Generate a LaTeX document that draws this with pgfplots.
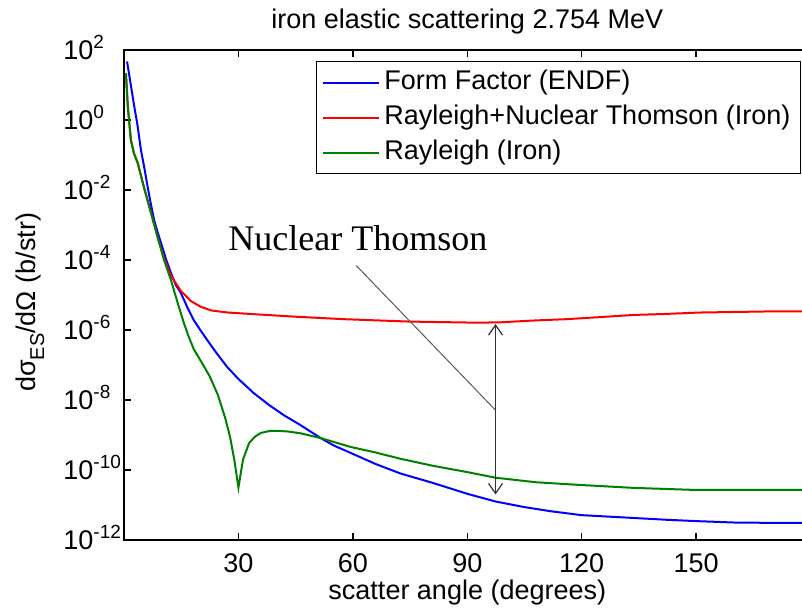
\documentclass[border=0pt]{standalone}
\usepackage{pgfplots}
\pgfplotsset{compat=1.18}
\usepackage{fontspec}
\setmainfont{Liberation Sans}
\newfontfamily\serifannot{Liberation Serif}
\usetikzlibrary{arrows.meta}
\newcommand{\fs}{\fontsize{13.5}{16}\selectfont}
\newcommand{\tl}[1]{10\raisebox{5.5pt}{\fontsize{9.5}{9.5}\selectfont #1}}
\definecolor{mblue}{RGB}{0,0,255}
\definecolor{mred}{RGB}{255,0,0}
\definecolor{mgreen}{RGB}{0,128,0}
\begin{document}
\begin{tikzpicture}
\begin{axis}[
  at={(0,0)}, anchor=south west,
  scale only axis, width=343.3pt, height=245pt,
  xmin=0, xmax=180, ymode=log, ymin=1e-12, ymax=1e2,
  xtick={30,60,90,120,150}, xticklabels={30,60,90,120,150},
  ytick={1e-12,1e-10,1e-8,1e-6,1e-4,1e-2,1,1e2},
  yticklabels={\tl{-12},\tl{-10},\tl{-8},\tl{-6},\tl{-4},\tl{-2},\tl{0},\tl{2}},
  yminorticks=false, xminorticks=false,
  tick align=inside, major tick length=3.5pt,
  every tick/.style={black, line width=0.75pt},
  axis line style={line width=0.8pt},
  yticklabel style={font=\fs, anchor=base west, inner sep=0pt, xshift=-30.5pt, yshift=-4.8pt},
  xticklabel style={font=\fs, anchor=base, inner sep=0pt, yshift=-16pt},
  every axis title shift=0pt,
  title={iron elastic scattering 2.754 MeV},
  title style={font=\fs, at={(axis description cs:0.5,1.0449)}, anchor=base, inner sep=0pt},
  xlabel={scatter angle (degrees)},
  xlabel style={font=\fs, at={(axis description cs:0.5,-0.1204)}, anchor=base, inner sep=0pt},
  ylabel={dσ\raisebox{-4.5pt}{\fontsize{10}{10}\selectfont ES}/dΩ (b/str)},
  ylabel style={font=\fs, at={(axis description cs:-0.1296,0.485)}, anchor=base, inner sep=0pt},
  legend style={font=\fs, draw=black, line width=0.6pt, fill=white,
    at={(rel axis cs:0.986,0.9776)}, anchor=north east,
    inner xsep=3pt, inner ysep=3pt, row sep=2.5pt,
    cells={anchor=west},
    nodes={inner ysep=1pt, text height=10pt, text depth=3pt}},
  legend image code/.code={\draw[#1, line width=1pt] (0pt,0pt) -- (28pt,0pt);},
]
\addplot[mblue, line width=1pt] coordinates {
(0.8,46.8) (1.5,15.8) (2.7,2.40) (3.5,0.759) (4.45,0.138) (5.3,0.0447)
(6.2,1.23e-2) (7.0,4.17e-3) (7.9,1.38e-3) (8.8,6.31e-4) (9.7,3.09e-4)
(11,1.07e-4) (12.3,4.27e-5) (13.6,1.91e-5) (14.9,1.15e-5) (16.6,4.47e-6)
(18.3,1.91e-6) (20,1.0e-6) (21.9,5.01e-7) (24,2.40e-7) (27,8.91e-8)
(30,3.98e-8) (34,1.58e-8) (38,7.24e-9) (42,3.63e-9) (46,2.0e-9)
(51.6,8.13e-10) (55,5.01e-10) (59.4,3.09e-10) (66,1.48e-10) (72.5,7.94e-11)
(81,4.27e-11) (90,2.09e-11) (97.4,1.26e-11) (105,8.71e-12) (112,6.61e-12)
(120,5.13e-12) (133.5,4.27e-12) (142,3.80e-12) (150,3.47e-12) (160,3.16e-12)
(170,3.09e-12) (180,3.09e-12)
};
\addlegendentry{Form Factor (ENDF)}
\addplot[mred, line width=1pt] coordinates {
(0.5,21.9) (1.0,2.40) (1.8,0.269) (2.6,0.112) (3.6,5.89e-2) (5.2,1.23e-2)
(7.1,2.19e-3) (8.8,4.57e-4) (10.5,1.12e-4) (12.3,3.55e-5) (14.9,1.32e-5)
(17.5,6.76e-6) (20,4.68e-6) (22.8,3.63e-6) (27.2,3.16e-6) (36,2.75e-6)
(45,2.40e-6) (57.6,2.04e-6) (75,1.74e-6) (92.7,1.62e-6) (98.7,1.66e-6)
(107,1.86e-6) (116,2.04e-6) (124.9,2.34e-6) (133.5,2.69e-6) (142,2.88e-6)
(151,3.16e-6) (168.6,3.39e-6) (180,3.39e-6)
};
\addlegendentry{Rayleigh+Nuclear Thomson (Iron)}
\addplot[mgreen, line width=1pt] coordinates {
(0.5,21.9) (1.0,2.40) (1.8,0.269) (2.6,0.112) (3.6,5.89e-2) (5.2,1.23e-2)
(7.1,2.19e-3) (8.8,4.57e-4) (10.5,1.0e-4) (12.3,2.69e-5) (14,6.31e-6)
(15.7,1.58e-6) (17.0,6.31e-7) (18.3,2.82e-7) (20.5,1.12e-7) (22.5,4.68e-8) (24.6,1.41e-8)
(26.5,3.16e-9) (27.8,8.91e-10) (28.9,2.0e-10) (30,3.16e-11) (31.2,2.0e-10)
(32.8,5.89e-10) (34.3,8.91e-10) (35.9,1.15e-9) (38,1.29e-9) (40.2,1.32e-9)
(43,1.26e-9) (46.3,1.12e-9) (51.6,8.13e-10) (59.4,4.57e-10) (66,3.16e-10)
(72.5,2.09e-10) (81,1.32e-10) (90,8.71e-11) (97.4,6.03e-11) (108,4.47e-11)
(120,3.72e-11) (133.5,3.09e-11) (150,2.69e-11) (165,2.69e-11) (180,2.69e-11)
};
\addlegendentry{Rayleigh (Iron)}
\draw[black!65, line width=0.5pt] (axis cs:60.9,6.92e-5) -- (axis cs:97.4,5.13e-9);
\draw[black!80, line width=0.6pt, {Straight Barb[length=5pt,width=7pt]}-{Straight Barb[length=5pt,width=7pt]}]
  (axis cs:97.4,2.0e-11) -- (axis cs:97.4,1.48e-6);
\node[font=\serifannot\fontsize{18}{20}\selectfont, anchor=base, inner sep=0pt] at (axis cs:61.3,1.93e-4) {Nuclear Thomson};
\end{axis}
\pgfresetboundingbox
\path[use as bounding box] (-62pt,-36pt) rectangle (339pt,270pt);
\end{tikzpicture}
\end{document}
